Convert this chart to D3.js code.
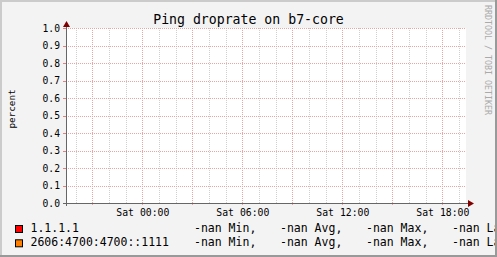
<!DOCTYPE html>
<html>
<head>
<meta charset="utf-8">
<script src="https://cdn.jsdelivr.net/npm/d3@7"></script>
<style>
  html, body { margin: 0; padding: 0; background: #f3f3f3; }
  svg { display: block; }
  text { font-family: "DejaVu Sans Mono", monospace; }
</style>
</head>
<body>
<div class="svg-container"></div>
<script>
var width = 497;
var height = 257;
var plot = {left: 66, right: 466, top: 28, bottom: 203};

// data
var title = "Ping droprate on b7-core";
var yLabel = "percent";
var timeStart = new Date(Date.UTC(2024, 0, 5, 19, 25));
var timeEnd = new Date(Date.UTC(2024, 0, 6, 19, 25));
var yTicks = [0, 0.1, 0.2, 0.3, 0.4, 0.5, 0.6, 0.7, 0.8, 0.9, 1.0];
var seriesNames = ["1.1.1.1", "2606:4700:4700::1111"];
var seriesColors = ["#ff0000", "#ff8000"];
var statNames = ["Min", "Avg", "Max", "Last"];
var statValues = [[NaN, NaN, NaN, NaN], [NaN, NaN, NaN, NaN]];
var seriesValues = [[], []]; // no data in the period

var x = d3.scaleUtc().domain([timeStart, timeEnd]).range([plot.left, plot.right]);
var y = d3.scaleLinear().domain([0, 1]).range([plot.bottom, plot.top]);
var px = function(v) { return Math.round(v) + 0.5; };

var svg = d3.select(".svg-container").append("svg")
            .attr("width", width)
            .attr("height", height);

svg.append("rect").attr("width", width).attr("height", height).attr("fill", "#f3f3f3");
svg.append("rect")
   .attr("x", plot.left).attr("y", plot.top)
   .attr("width", plot.right - plot.left).attr("height", plot.bottom - plot.top)
   .attr("fill", "#ffffff");

// minor vertical grid (hourly)
var hours = d3.utcHour.every(1).range(timeStart, timeEnd);
var major = hours.filter(function(d) { return d.getUTCHours() % 3 == 0; });
var minor = hours.filter(function(d) { return d.getUTCHours() % 3 != 0; });
var labels = hours.filter(function(d) { return d.getUTCHours() % 6 == 0; });

svg.selectAll(".vminor").data(minor).enter().append("line")
   .attr("x1", function(d) { return px(x(d)); }).attr("x2", function(d) { return px(x(d)); })
   .attr("y1", plot.top).attr("y2", plot.bottom)
   .attr("stroke", "#cfcfcf").attr("stroke-dasharray", "1,1");

svg.selectAll(".vmajor").data(major).enter().append("line")
   .attr("x1", function(d) { return px(x(d)); }).attr("x2", function(d) { return px(x(d)); })
   .attr("y1", plot.top).attr("y2", plot.bottom + 3)
   .attr("stroke", "#eba3a3").attr("stroke-dasharray", "1,1");

svg.selectAll(".hgrid").data(yTicks.slice(1)).enter().append("line")
   .attr("x1", plot.left).attr("x2", plot.right)
   .attr("y1", function(d) { return px(y(d)); }).attr("y2", function(d) { return px(y(d)); })
   .attr("stroke", "#eba3a3").attr("stroke-dasharray", "1,1");

// y tick marks
svg.selectAll(".ytick").data(yTicks).enter().append("line")
   .attr("x1", plot.left - 3).attr("x2", plot.left)
   .attr("y1", function(d) { return px(y(d)); }).attr("y2", function(d) { return px(y(d)); })
   .attr("stroke", "#e08080");

// series lines (empty: all values are nan)
var line = d3.line().x(function(d) { return x(d[0]); }).y(function(d) { return y(d[1]); });
seriesValues.forEach(function(s, i) {
  svg.append("path").datum(s).attr("d", line).attr("fill", "none")
     .attr("stroke", seriesColors[i]).attr("stroke-width", 1);
});

// axes
svg.append("line").attr("x1", plot.left - 3).attr("x2", plot.right + 3)
   .attr("y1", px(plot.bottom)).attr("y2", px(plot.bottom))
   .attr("stroke", "#666666");
svg.append("line").attr("x1", px(plot.left)).attr("x2", px(plot.left))
   .attr("y1", plot.bottom + 3).attr("y2", plot.top - 3)
   .attr("stroke", "#666666");
svg.append("path")
   .attr("d", "M" + (plot.right + 2) + "," + (plot.bottom - 3) + "L" + (plot.right + 8) + "," + (plot.bottom + 0.5) + "L" + (plot.right + 2) + "," + (plot.bottom + 4) + "Z")
   .attr("fill", "#800000");
svg.append("path")
   .attr("d", "M" + (plot.left - 3) + "," + (plot.top - 1) + "L" + (plot.left + 0.5) + "," + (plot.top - 7) + "L" + (plot.left + 4) + "," + (plot.top - 1) + "Z")
   .attr("fill", "#800000");

// tick labels
svg.selectAll(".ylab").data(yTicks).enter().append("text")
   .attr("x", plot.left - 6).attr("y", function(d) { return y(d) + 3.5; })
   .attr("text-anchor", "end").attr("font-size", "9.7px").attr("fill", "#000")
   .text(d3.format(".1f"));

var fmt = d3.utcFormat("%a %H:%M");
svg.selectAll(".xlab").data(labels).enter().append("text")
   .attr("x", function(d) { return x(d) + 0.5; }).attr("y", 215.5)
   .attr("text-anchor", "middle").attr("font-size", "9.8px").attr("fill", "#000")
   .text(fmt);

// title and axis label
svg.append("text").attr("x", width / 2).attr("y", 23.5)
   .attr("text-anchor", "middle").attr("font-size", "13.2px").text(title);
svg.append("text").attr("transform", "translate(15,109) rotate(-90)")
   .attr("text-anchor", "middle").attr("font-size", "9.3px").text(yLabel);
svg.append("text").attr("transform", "translate(485,5) rotate(90)")
   .attr("font-size", "8.3px").attr("fill", "#aaaaaa").text("RRDTOOL / TOBI OETIKER");

// legend
var fmtVal = function(v) { return isNaN(v) ? "-nan" : d3.format(".2f")(v); };
var rows = svg.selectAll(".legend").data(seriesNames).enter().append("g")
              .attr("transform", function(d, i) { return "translate(0," + (i * 14.3) + ")"; });
rows.append("rect").attr("x", 15.5).attr("y", 225.5).attr("width", 7).attr("height", 7)
    .attr("fill", function(d, i) { return seriesColors[i]; })
    .attr("stroke", "#000").attr("stroke-width", 1);
rows.append("text").attr("x", 30.5).attr("y", 232.2).attr("font-size", "11.5px")
    .text(function(d) { return d; });
statNames.forEach(function(s, j) {
  rows.append("text").attr("x", 194 + j * 86).attr("y", 232.2).attr("font-size", "11.5px")
      .text(function(d, i) { return fmtVal(statValues[i][j]) + " " + s + (j < statNames.length - 1 ? "," : ""); });
});

// frame
svg.append("path").attr("d", "M0,1H" + width + "M1,0V" + height)
   .attr("stroke", "#cbcbcb").attr("stroke-width", 2);
svg.append("path").attr("d", "M" + (width - 1) + ",0V" + height + "M0," + (height - 1) + "H" + width)
   .attr("stroke", "#999999").attr("stroke-width", 2);
</script>
</body>
</html>
